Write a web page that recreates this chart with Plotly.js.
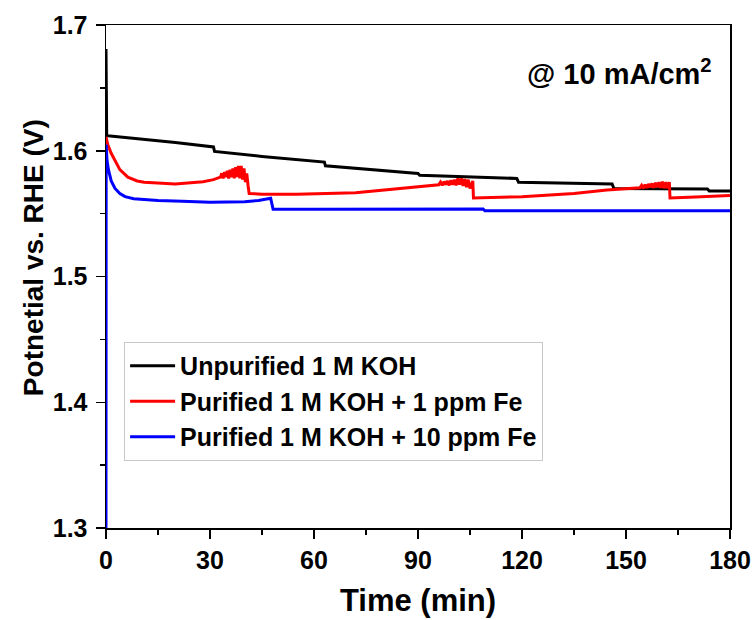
<!DOCTYPE html>
<html>
<head>
<meta charset="utf-8">
<script src="https://cdn.plot.ly/plotly-3.0.1.min.js"></script>
<style>html,body{margin:0;padding:0;background:#fff;}#chart{width:754px;height:620px;}</style>
</head>
<body>
<div id="chart"></div>
<script>
// Data
const seriesNames = ["Unpurified 1 M KOH", "Purified 1 M KOH + 1 ppm Fe", "Purified 1 M KOH + 10 ppm Fe"];

const blackTime = [0, 0.2, 0.5, 10, 20, 31, 31.3, 45, 63, 63.3, 75, 90, 90.5, 105, 118.5, 119, 135, 146, 146.5, 160, 173.5, 174, 180];
const blackV    = [1.681, 1.612, 1.612, 1.6095, 1.6065, 1.603, 1.5995, 1.5955, 1.591, 1.588, 1.5855, 1.582, 1.5805, 1.579, 1.578, 1.575, 1.574, 1.5735, 1.570, 1.5698, 1.5695, 1.568, 1.568];

const redTime = [0, 0.5, 1.5, 2.6, 4, 6.3, 9, 11, 20, 28, 31,
  33, 33.4, 33.8, 34.2, 34.6, 35, 35.4, 35.8, 36.2, 36.6, 37, 37.4, 37.8, 38.2, 38.6, 39, 39.4, 39.8, 40.2, 40.6, 41, 41.3,
  45, 55, 72, 85, 93,
  96, 96.5, 97, 97.5, 98, 98.5, 99, 99.5, 100, 100.5, 101, 101.5, 102, 102.5, 103, 103.5, 104, 104.5, 105, 105.8, 106,
  120, 135, 144.5, 152,
  154, 154.5, 155, 155.5, 156, 156.5, 157, 157.5, 158, 158.5, 159, 159.5, 160, 160.5, 161, 161.5, 162, 162.5, 162.7,
  170, 180];
const redV = [1.611, 1.605, 1.598, 1.5926, 1.585, 1.579, 1.576, 1.575, 1.5735, 1.5753, 1.577,
  1.579, 1.582, 1.578, 1.583, 1.579, 1.584, 1.578, 1.585, 1.579, 1.586, 1.578, 1.587, 1.579, 1.588, 1.578, 1.588, 1.577, 1.586, 1.575, 1.582, 1.572, 1.566,
  1.5655, 1.5655, 1.5666, 1.570, 1.5725,
  1.573, 1.575, 1.5725, 1.5755, 1.573, 1.576, 1.5725, 1.5765, 1.573, 1.577, 1.5725, 1.578, 1.573, 1.578, 1.572, 1.5775, 1.571, 1.577, 1.570, 1.576, 1.5624,
  1.5635, 1.566, 1.5688, 1.570,
  1.5705, 1.5725, 1.570, 1.573, 1.5705, 1.5735, 1.571, 1.574, 1.5705, 1.5745, 1.571, 1.575, 1.5705, 1.5755, 1.570, 1.575, 1.570, 1.575, 1.5624,
  1.5632, 1.5645];

const blueTime = [0, 0.05, 0.3, 0.7, 1.5, 2.6, 4, 5.5, 8, 11, 15, 22, 30, 40, 44, 47.5, 48.2, 60, 80, 100, 108.8, 109.3, 130, 150, 180];
const blueV    = [1.30, 1.605, 1.592, 1.585, 1.576, 1.570, 1.566, 1.5635, 1.5618, 1.561, 1.5605, 1.5598, 1.559, 1.5595, 1.5605, 1.5622, 1.5534, 1.5534, 1.5535, 1.5536, 1.5536, 1.5523, 1.5523, 1.5523, 1.5523];

const xTickVals = [0, 30, 60, 90, 120, 150, 180];
const yTickVals = [1.3, 1.4, 1.5, 1.6, 1.7];

const fam = "Liberation Sans, Arial, Helvetica, sans-serif";

const traces = [
  {x: blackTime, y: blackV, name: seriesNames[0], mode: "lines", line: {color: "#000000", width: 3}},
  {x: redTime, y: redV, name: seriesNames[1], mode: "lines", line: {color: "#ff0000", width: 3}},
  {x: blueTime, y: blueV, name: seriesNames[2], mode: "lines", line: {color: "#0000ff", width: 3}}
];

const layout = {
  width: 754, height: 620,
  margin: {l: 106, r: 24, t: 25, b: 92},
  paper_bgcolor: "#ffffff", plot_bgcolor: "#ffffff",
  showlegend: true,
  legend: {
    x: 0.029, y: 0.37, xanchor: "left", yanchor: "top",
    bgcolor: "#ffffff", bordercolor: "#c8c8c8", borderwidth: 1,
    font: {family: fam, size: 25, color: "#000", weight: "bold"},
    itemwidth: 45
  },
  xaxis: {
    range: [0, 180], tickvals: xTickVals, ticks: "outside", ticklen: 9, tickwidth: 1.5, tickcolor: "#000",
    showline: true, linecolor: "#000", linewidth: 1.5, mirror: true, showgrid: false, zeroline: false,
    tickfont: {family: fam, size: 25, color: "#000", weight: "bold"},
    minor: {dtick: 15, ticks: "outside", ticklen: 5, tickwidth: 1.5, tickcolor: "#000", showgrid: false},
    title: {text: "Time (min)", font: {family: fam, size: 31, color: "#000", weight: "bold"}, standoff: 17}
  },
  yaxis: {
    range: [1.3, 1.7], tickvals: yTickVals, ticktext: yTickVals.map(v => v.toFixed(1)),
    ticks: "outside", ticklen: 9, tickwidth: 1.5, tickcolor: "#000", ticklabelstandoff: 3,
    showline: true, linecolor: "#000", linewidth: 1.5, mirror: true, showgrid: false, zeroline: false,
    tickfont: {family: fam, size: 25, color: "#000", weight: "bold"},
    minor: {dtick: 0.05, tick0: 1.3, ticks: "outside", ticklen: 5, tickwidth: 1.5, tickcolor: "#000", showgrid: false}
  },
  annotations: [
    {
      xref: "paper", yref: "paper", x: 0.975, y: 0.907, xanchor: "right", yanchor: "middle",
      text: "@ 10 mA/cm<sup>2</sup>", showarrow: false,
      font: {family: fam, size: 29, color: "#000", weight: "bold"}
    },
    {
      xref: "paper", yref: "paper", x: -0.115, y: 0.537, xanchor: "center", yanchor: "middle",
      text: "Potnetial vs. RHE (V)", textangle: -90, showarrow: false,
      font: {family: fam, size: 28, color: "#000", weight: "bold"}
    }
  ]
};

Plotly.newPlot("chart", traces, layout, {displayModeBar: false, staticPlot: true});
</script>
</body>
</html>
